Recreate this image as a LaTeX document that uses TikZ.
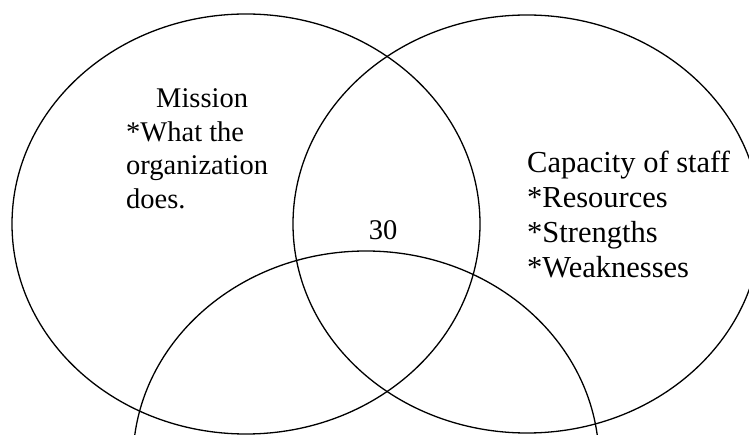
\documentclass[tikz,border=0pt]{standalone}
\usepackage{fontspec}
\setmainfont{Liberation Serif}
\usetikzlibrary{positioning}
\tikzset{
  ring/.style={draw,line width=1.3pt},
  txt/.style={inner sep=0pt,align=left,anchor=north west,font=\fontsize{28.5}{33.5}\selectfont},
  bigtxt/.style={txt,font=\fontsize{30.5}{35}\selectfont}
}

\begin{document}
\begin{tikzpicture}[x=1pt,y=-1pt]
\useasboundingbox (0,0) rectangle (749,435);
\clip (0,0) rectangle (749,435);
% the three sets
\draw[ring] (246,224) ellipse [x radius=234, y radius=210];
\draw[ring] (527,224) ellipse [x radius=234, y radius=209];
\draw[ring] (366,461) ellipse [x radius=233, y radius=210];
% labels
\node[txt] (mission) at (126,88.5) {\hspace*{30pt}Mission\\*What the\\organization\\does.};
\node[bigtxt] (staff) at (527,151) {Capacity of staff\\*Resources\\*Strengths\\*Weaknesses};
\node[txt,anchor=base] (mid) at (383,240) {30};
\end{tikzpicture}
\end{document}
